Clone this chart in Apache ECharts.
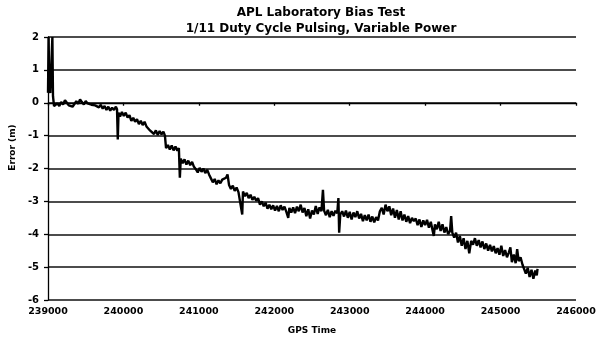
<!DOCTYPE html>
<html>
<head>
<meta charset="utf-8">
<script src="https://cdn.jsdelivr.net/npm/echarts@6/dist/echarts.min.js"></script>
<style>html,body{margin:0;padding:0;background:#fff}#c{width:600px;height:342px}</style>
</head>
<body>
<div id="c"></div>
<script>
const titleLines = ['APL Laboratory Bias Test', '1/11 Duty Cycle Pulsing, Variable Power'];
const xName = 'GPS Time';
const yName = 'Error (m)';
const xTicks = [239000, 240000, 241000, 242000, 243000, 244000, 245000, 246000];
const yTicks = [-6, -5, -4, -3, -2, -1, 0, 1, 2];

const gpsTime = [
239000,239008,239016,239030,239045,239058,239066,239080,239100,239125,
239150,239175,239200,239225,239250,239275,239300,239325,239350,239375,
239400,239425,239450,239475,239500,239525,239550,239575,239600,239625,
239650,239675,239700,239725,239750,239775,239800,239825,239850,239875,
239900,239915,239925,239935,239955,239980,240005,240030,240055,240080,
240105,240130,240155,240180,240205,240230,240255,240280,240305,240330,
240355,240380,240405,240430,240455,240480,240505,240530,240550,240565,
240590,240615,240640,240665,240690,240715,240735,240748,240760,240785,
240810,240835,240860,240885,240910,240935,240960,240985,241010,241035,
241060,241085,241110,241135,241160,241185,241210,241235,241260,241285,
241310,241335,241360,241380,241400,241425,241450,241475,241500,241525,
241550,241575,241585,241610,241635,241660,241685,241710,241735,241760,
241785,241810,241835,241860,241885,241910,241935,241960,241985,242010,
242035,242060,242085,242110,242135,242160,242185,242200,242225,242250,
242275,242300,242325,242350,242375,242400,242425,242450,242475,242500,
242525,242550,242575,242600,242625,242645,242660,242685,242710,242735,
242760,242785,242810,242835,242850,242860,242875,242900,242925,242950,
242975,243000,243025,243050,243075,243100,243125,243150,243175,243200,
243225,243250,243275,243300,243325,243350,243375,243400,243425,243450,
243475,243500,243525,243550,243575,243600,243625,243650,243675,243700,
243725,243750,243775,243800,243825,243850,243875,243900,243925,243950,
243975,244000,244025,244050,244075,244100,244115,244130,244155,244180,
244205,244230,244255,244280,244305,244330,244345,244360,244385,244410,
244435,244460,244485,244510,244535,244560,244585,244610,244635,244660,
244685,244710,244735,244760,244785,244810,244835,244860,244885,244910,
244935,244960,244985,245010,245035,245060,245085,245110,245130,245150,
245175,245200,245220,245240,245265,245290,245310,245335,245360,245385,
245410,245435,245460,245480,245490
];

const errorM = [
0.30,2.00,0.45,0.30,0.35,2.00,0.20,-0.10,-0.15,-0.02,
-0.10,0.02,-0.05,0.08,0.00,-0.08,-0.02,-0.12,-0.04,0.05,
-0.03,0.10,0.02,-0.05,0.05,-0.02,0.04,-0.06,0.00,-0.08,
-0.03,-0.14,-0.06,-0.18,-0.10,-0.22,-0.12,-0.24,-0.15,-0.22,
-0.12,-0.20,-1.12,-0.30,-0.42,-0.28,-0.40,-0.30,-0.45,-0.38,
-0.55,-0.46,-0.58,-0.50,-0.65,-0.55,-0.68,-0.58,-0.72,-0.66,
-0.85,-0.80,-0.95,-0.84,-0.98,-0.86,-0.96,-0.88,-1.00,-1.38,
-1.28,-1.42,-1.30,-1.45,-1.33,-1.46,-1.38,-2.28,-1.70,-1.84,
-1.72,-1.88,-1.76,-1.90,-1.80,-1.95,-2.02,-2.12,-1.98,-2.10,
-2.00,-2.14,-2.04,-2.18,-2.30,-2.42,-2.32,-2.48,-2.36,-2.45,
-2.34,-2.40,-2.28,-2.18,-2.50,-2.62,-2.52,-2.68,-2.58,-2.72,
-2.66,-3.40,-2.70,-2.84,-2.74,-2.90,-2.80,-2.95,-2.86,-2.98,
-2.90,-3.10,-3.00,-3.15,-3.04,-3.22,-3.10,-3.24,-3.12,-3.28,
-3.14,-3.30,-3.12,-3.26,-3.16,-3.32,-3.50,-3.20,-3.34,-3.18,
-3.36,-3.16,-3.30,-3.10,-3.34,-3.20,-3.45,-3.24,-3.52,-3.28,
-3.40,-3.14,-3.38,-3.18,-3.30,-2.65,-3.28,-3.42,-3.26,-3.48,
-3.30,-3.44,-3.28,-3.36,-2.90,-3.95,-3.40,-3.30,-3.46,-3.28,
-3.50,-3.32,-3.55,-3.34,-3.48,-3.30,-3.52,-3.38,-3.60,-3.42,
-3.58,-3.40,-3.62,-3.46,-3.64,-3.48,-3.58,-3.30,-3.20,-3.40,
-3.10,-3.30,-3.15,-3.42,-3.22,-3.50,-3.26,-3.55,-3.30,-3.58,
-3.40,-3.62,-3.45,-3.66,-3.50,-3.60,-3.52,-3.72,-3.55,-3.78,
-3.58,-3.72,-3.56,-3.80,-3.62,-3.90,-4.05,-3.70,-3.85,-3.62,
-3.90,-3.70,-3.95,-3.78,-4.00,-3.90,-3.45,-3.95,-4.10,-3.95,
-4.25,-4.05,-4.35,-4.12,-4.45,-4.20,-4.58,-4.20,-4.32,-4.12,
-4.35,-4.18,-4.40,-4.22,-4.45,-4.28,-4.50,-4.32,-4.52,-4.36,
-4.58,-4.42,-4.62,-4.35,-4.66,-4.48,-4.70,-4.55,-4.40,-4.85,
-4.62,-4.88,-4.45,-4.82,-4.70,-4.92,-4.90,-5.20,-5.02,-5.30,
-5.08,-5.35,-5.10,-5.25,-5.05
];

const seriesData = gpsTime.map((t, i) => [t, errorM[i]]);
const font = 'Liberation Sans';

const chart = echarts.init(document.getElementById('c'), null, {renderer: 'canvas'});
chart.setOption({
  animation: false,
  backgroundColor: '#fff',
  title: {
    text: titleLines.join('\n'),
    left: 316, top: 0, textAlign: 'center',
    textStyle: {fontFamily: 'DejaVu Sans', fontWeight: 'bold', fontSize: 12, color: '#000', lineHeight: 16}
  },
  grid: {left: 47, right: 24, top: 37, bottom: 42},
  xAxis: {
    type: 'value', min: xTicks[0], max: xTicks[xTicks.length - 1], interval: 1000,
    name: xName, nameLocation: 'middle', nameGap: 26,
    nameTextStyle: {fontFamily: 'DejaVu Sans', fontWeight: 'bold', fontSize: 9, color: '#000'},
    axisLine: {lineStyle: {color: '#000', width: 1.3}},
    axisTick: {show: true, length: 3, lineStyle: {color: '#000', width: 1.3}},
    axisLabel: {fontFamily: 'DejaVu Sans', fontWeight: 'bold', fontSize: 9.5, color: '#000', margin: 7,
      formatter: v => String(v)},
    splitLine: {show: false}
  },
  yAxis: {
    type: 'value', min: yTicks[0], max: yTicks[yTicks.length - 1], interval: 1,
    name: yName, nameLocation: 'middle', nameGap: 30,
    nameTextStyle: {fontFamily: 'DejaVu Sans', fontWeight: 'bold', fontSize: 9, color: '#000', padding: [0, 0, 0, 42]},
    axisLine: {show: true, lineStyle: {color: '#000', width: 1.3}},
    axisTick: {show: true, length: 4, lineStyle: {color: '#000', width: 1.3}},
    axisLabel: {fontFamily: 'DejaVu Sans', fontWeight: 'bold', fontSize: 10, color: '#000', margin: 9},
    splitLine: {show: true, lineStyle: {color: '#111', width: 1.5}}
  },
  series: [{
    type: 'line', data: seriesData, showSymbol: false, symbol: 'none',
    lineStyle: {color: '#000', width: 2.4}, z: 3
  }]
});
</script>
</body>
</html>
